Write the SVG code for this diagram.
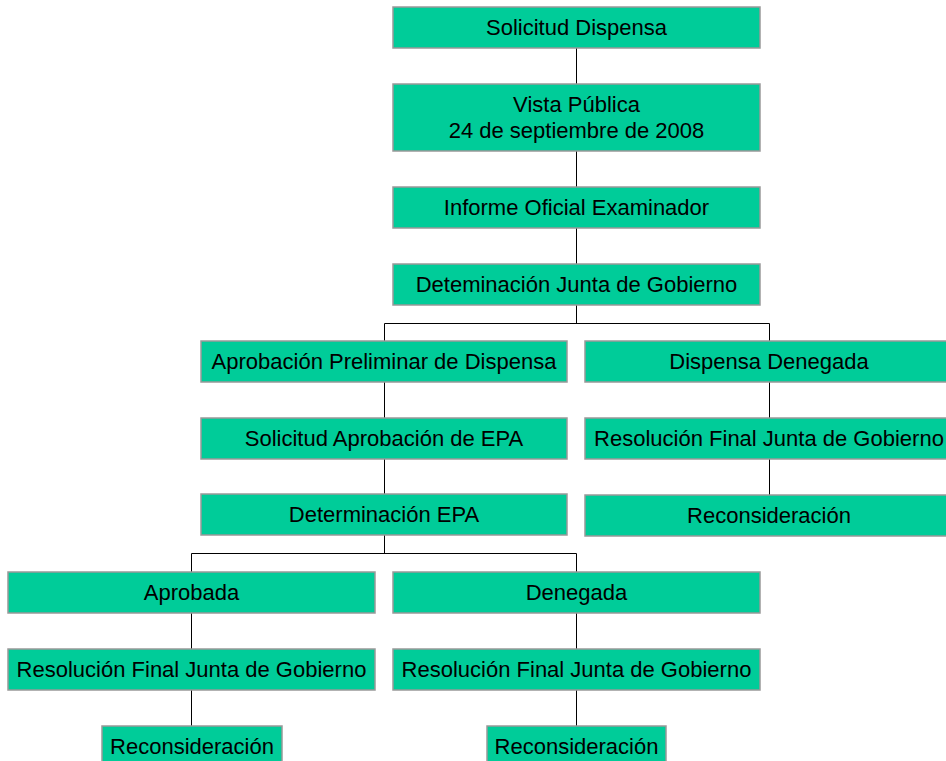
<svg xmlns="http://www.w3.org/2000/svg" width="946" height="761" viewBox="0 0 946 761">
<style>
.box{fill:#00CC99;stroke:#999999;stroke-width:1.5}
.t{font-family:"Liberation Sans",Arial,sans-serif;font-size:22px;fill:#000;text-anchor:middle}
.c{stroke:#000;stroke-width:1;fill:none}
</style>
<rect width="946" height="761" fill="#fff"/>
<g id="connectors">
<path class="c" d="M576.5 48V84M576.5 151V187M576.5 228V264M576.5 305V323.5M384.5 323.5H769.5M384.5 323.5V341M769.5 323.5V341"/>
<path class="c" d="M384.5 382V418M384.5 459V494M384.5 535V553.5M191.5 553.5H576.5M191.5 553.5V572M576.5 553.5V572"/>
<path class="c" d="M769.5 382V418M769.5 459V495"/>
<path class="c" d="M191.5 613V649M191.5 690V726M576.5 613V649M576.5 690V726"/>
</g>
<g id="n1"><rect class="box" x="393" y="7" width="367" height="41"/><text class="t" x="576.5" y="35">Solicitud Dispensa</text></g>
<g id="n2"><rect class="box" x="393" y="84" width="367" height="67"/><text class="t" x="576.5" y="111.5">Vista Pública</text><text class="t" x="576.5" y="137.5">24 de septiembre de 2008</text></g>
<g id="n3"><rect class="box" x="393" y="187" width="367" height="41"/><text class="t" x="576.5" y="215">Informe Oficial Examinador</text></g>
<g id="n4"><rect class="box" x="393" y="264" width="367" height="41"/><text class="t" x="576.5" y="292">Deteminación Junta de Gobierno</text></g>
<g id="n5"><rect class="box" x="201" y="341" width="366" height="41"/><text class="t" x="384" y="369">Aprobación Preliminar de Dispensa</text></g>
<g id="n6"><rect class="box" x="585" y="341" width="368" height="41"/><text class="t" x="769" y="369">Dispensa Denegada</text></g>
<g id="n7"><rect class="box" x="201" y="418" width="366" height="41"/><text class="t" x="384" y="446">Solicitud Aprobación de EPA</text></g>
<g id="n8"><rect class="box" x="585" y="418" width="368" height="41"/><text class="t" x="769" y="446">Resolución Final Junta de Gobierno</text></g>
<g id="n9"><rect class="box" x="201" y="494" width="366" height="41"/><text class="t" x="384" y="522">Determinación EPA</text></g>
<g id="n10"><rect class="box" x="585" y="495" width="368" height="41"/><text class="t" x="769" y="523">Reconsideración</text></g>
<g id="n11"><rect class="box" x="8" y="572" width="367" height="41"/><text class="t" x="191.5" y="600">Aprobada</text></g>
<g id="n12"><rect class="box" x="393" y="572" width="367" height="41"/><text class="t" x="576.5" y="600">Denegada</text></g>
<g id="n13"><rect class="box" x="8" y="649" width="367" height="41"/><text class="t" x="191.5" y="677">Resolución Final Junta de Gobierno</text></g>
<g id="n14"><rect class="box" x="393" y="649" width="367" height="41"/><text class="t" x="576.5" y="677">Resolución Final Junta de Gobierno</text></g>
<g id="n15"><rect class="box" x="102" y="726" width="180" height="41"/><text class="t" x="192" y="754">Reconsideración</text></g>
<g id="n16"><rect class="box" x="487" y="726" width="179" height="41"/><text class="t" x="576.5" y="754">Reconsideración</text></g>
</svg>
